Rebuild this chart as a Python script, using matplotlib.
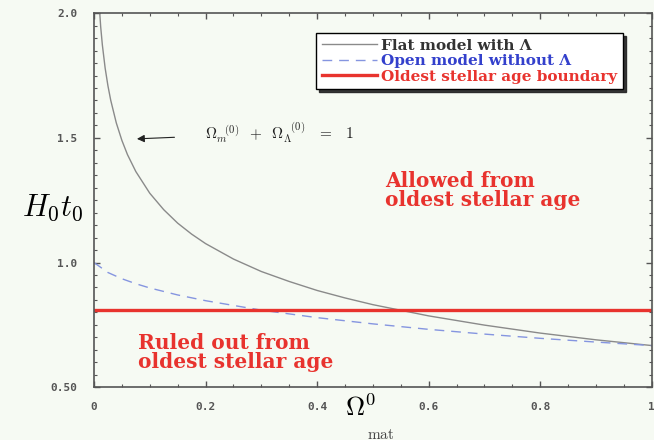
import matplotlib
matplotlib.use("Agg")
import matplotlib.pyplot as plt
from matplotlib.ticker import MultipleLocator, FixedLocator

# values
flat_x = [0.008, 0.012, 0.015, 0.02, 0.025, 0.03, 0.04, 0.05, 0.06, 0.075,
          0.1, 0.125, 0.15, 0.175, 0.2, 0.25, 0.3, 0.35, 0.4, 0.45, 0.5,
          0.6, 0.7, 0.8, 0.9, 1.0]
flat_y = [2.078, 1.946, 1.873, 1.780, 1.709, 1.651, 1.560, 1.490, 1.433,
          1.365, 1.278, 1.212, 1.158, 1.114, 1.076, 1.014, 0.964, 0.924,
          0.888, 0.858, 0.831, 0.786, 0.749, 0.717, 0.690, 0.667]

open_x = [0.0, 0.025, 0.05, 0.075, 0.1, 0.15, 0.2, 0.3, 0.4, 0.5, 0.6, 0.7,
          0.8, 0.9, 1.0]
open_y = [1.0, 0.960, 0.935, 0.915, 0.898, 0.870, 0.847, 0.809, 0.779,
          0.754, 0.732, 0.713, 0.696, 0.681, 0.667]

age_bound = 0.81

x_ticks = [0, 0.2, 0.4, 0.6, 0.8, 1.0]
x_labels = ["0", "0.2", "0.4", "0.6", "0.8", "1"]
y_ticks = [0.5, 1.0, 1.5, 2.0]
y_labels = ["0.50", "1.0", "1.5", "2.0"]

bg = "#f6faf3"
red = "#e8332e"
blue = "#8595e0"
gray = "#8a8a8a"

plt.rcParams["mathtext.fontset"] = "cm"

fig = plt.figure(figsize=(6.54, 4.40), dpi=100, facecolor=bg)
ax = fig.add_axes([0.1437, 0.12, 0.853, 0.85], facecolor=bg)

ax.plot(flat_x, flat_y, color=gray, lw=1.0, label="Flat model with Λ")
ax.plot(open_x, open_y, color=blue, lw=1.0, ls=(0, (7, 5)),
        label="Open model without Λ")
ax.axhline(age_bound, color=red, lw=2.4, label="Oldest stellar age boundary")

ax.set_xlim(0, 1)
ax.set_ylim(0.5, 2.0)
ax.xaxis.set_major_locator(FixedLocator(x_ticks))
ax.yaxis.set_major_locator(FixedLocator(y_ticks))
ax.set_xticklabels(x_labels)
ax.set_yticklabels(y_labels)
ax.xaxis.set_minor_locator(MultipleLocator(0.05))
ax.yaxis.set_minor_locator(MultipleLocator(0.05))
ax.tick_params(which="both", direction="in", top=True, right=True,
               color="#555555")
ax.tick_params(which="major", length=4, width=1.0)
ax.tick_params(which="minor", length=2, width=0.8)
ax.tick_params(axis="x", which="major", pad=11)
ax.tick_params(axis="y", which="major", pad=12)
for lab in ax.get_xticklabels() + ax.get_yticklabels():
    lab.set_fontfamily("DejaVu Sans Mono")
    lab.set_fontweight("bold")
    lab.set_fontsize(8)
    lab.set_color("#555555")
for sp in ax.spines.values():
    sp.set_color("#555555")
    sp.set_linewidth(1.2)

leg = ax.legend(loc="upper right", bbox_to_anchor=(0.948, 0.9465),
                borderaxespad=0,
                prop={"family": "DejaVu Serif", "weight": "bold", "size": 11},
                frameon=True, fancybox=False,
                shadow={"color": "#222222", "alpha": 0.9},
                handlelength=3.6, borderpad=0.35, labelspacing=0.1,
                handletextpad=0.3)
leg.get_frame().set_edgecolor("black")
leg.get_frame().set_linewidth(1.0)
leg.get_frame().set_facecolor("white")
for txt, col in zip(leg.get_texts(), ["#333333", "#3340cc", red]):
    txt.set_color(col)

ax.annotate(r"$\Omega_m^{\;\;\;(0)}\;\;+\;\;\Omega_\Lambda^{\;\;\;(0)}"
            r"\;\;\;=\;\;\;1$",
            xy=(0.077, 1.496), xytext=(0.199, 1.52),
            fontsize=11, color="#222222", va="center",
            arrowprops=dict(arrowstyle="-|>", color="#222222", lw=0.8,
                            mutation_scale=11, shrinkA=20, shrinkB=0))

ax.text(0.522, 1.288, "Allowed from\noldest stellar age", color=red,
        fontfamily="DejaVu Serif", fontweight="bold", fontsize=14.5,
        va="center", ha="left", linespacing=0.95)
ax.text(0.079, 0.64, "Ruled out from\noldest stellar age", color=red,
        fontfamily="DejaVu Serif", fontweight="bold", fontsize=14.5,
        va="center", ha="left", linespacing=0.95)

fig.text(22 / 654, 1 - 208 / 440, r"$H_0t_0$", fontsize=22, ha="left",
         va="center")
fig.text(345 / 654, 1 - 409 / 440, r"$\Omega^0$", fontsize=19, ha="left",
         va="center")
fig.text(367 / 654, 1 - 434 / 440, r"$\rm mat$", fontsize=11, ha="left",
         va="center", color="#444444")

fig.savefig("out.png", dpi=100, facecolor=bg)
